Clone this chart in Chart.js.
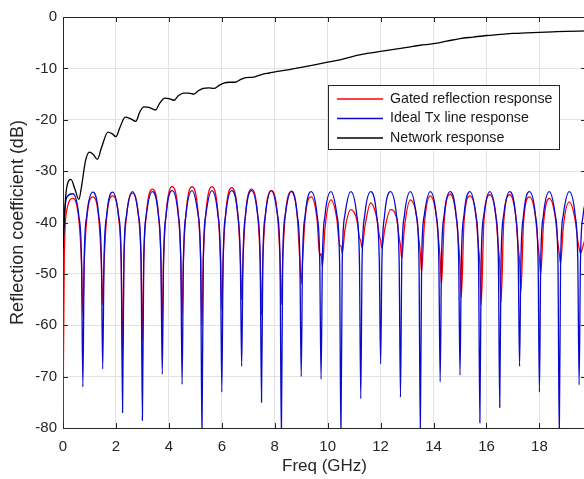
<!DOCTYPE html>
<html>
<head>
<meta charset="utf-8">
<script src="https://cdn.jsdelivr.net/npm/chart.js@4.4.1/dist/chart.umd.min.js"></script>
<style>
  html, body { margin: 0; padding: 0; background: #fff; overflow: hidden; }
  #wrap { width: 584px; height: 479px; overflow: hidden; }
  canvas { display: block; }
</style>
</head>
<body>
<div id="wrap"><canvas id="c" width="586" height="479"></canvas></div>
<script>
'use strict';

/* global Chart */

// frequency grid (GHz) shared by the gated and ideal traces
const freq = [
    0, 0.05, 0.15, 0.375, 0.6, 0.7,
    0.75, 0.8, 0.9, 1.125, 1.35, 1.45,
    1.5, 1.55, 1.65, 1.875, 2.1, 2.2,
    2.25, 2.3, 2.4, 2.625, 2.85, 2.95,
    3, 3.05, 3.15, 3.375, 3.6, 3.7,
    3.75, 3.8, 3.9, 4.125, 4.35, 4.45,
    4.5, 4.55, 4.65, 4.875, 5.1, 5.2,
    5.25, 5.3, 5.4, 5.625, 5.85, 5.95,
    6, 6.05, 6.15, 6.375, 6.6, 6.7,
    6.75, 6.8, 6.9, 7.125, 7.35, 7.45,
    7.5, 7.55, 7.65, 7.875, 8.1, 8.2,
    8.25, 8.3, 8.4, 8.625, 8.85, 8.95,
    9, 9.05, 9.15, 9.375, 9.6, 9.7,
    9.75, 9.8, 9.9, 10.125, 10.35, 10.45,
    10.5, 10.55, 10.65, 10.875, 11.1, 11.2,
    11.25, 11.3, 11.4, 11.625, 11.85, 11.95,
    12, 12.05, 12.15, 12.375, 12.6, 12.7,
    12.75, 12.8, 12.9, 13.125, 13.35, 13.45,
    13.5, 13.55, 13.65, 13.875, 14.1, 14.2,
    14.25, 14.3, 14.4, 14.625, 14.85, 14.95,
    15, 15.05, 15.15, 15.375, 15.6, 15.7,
    15.75, 15.8, 15.9, 16.125, 16.35, 16.45,
    16.5, 16.55, 16.65, 16.875, 17.1, 17.2,
    17.25, 17.3, 17.4, 17.625, 17.85, 17.95,
    18, 18.05, 18.15, 18.375, 18.6, 18.7,
    18.75, 18.8, 18.9, 19.125, 19.35, 19.45,
    19.5, 19.55, 19.65, 19.76
];

// Gated reflection response (dB)
const gatedDb = [
    -80, -46, -37.5, -35.3, -39.5, -48,
    -58, -48, -39.2, -35, -39.2, -48,
    -56, -48, -39, -34.8, -39, -48,
    -66, -47.8, -38.8, -34.3, -38.6, -47.5,
    -63, -47.5, -38.3, -33.5, -38, -47,
    -60, -47.2, -38, -33, -37.8, -47,
    -58, -47.2, -38, -33, -37.8, -47,
    -60, -47.2, -38, -33, -37.8, -47,
    -57, -47.2, -38, -33.2, -38, -47,
    -55, -47.3, -38.2, -33.5, -38.2, -47.2,
    -58, -47.4, -38.4, -33.8, -38.4, -47.3,
    -56, -47.5, -38.5, -34, -38.8, -47.5,
    -52, -47.5, -39, -35, -39.5, -46.5,
    -46, -48.6, -41, -35.6, -39.5, -44.5,
    -44.5, -46, -41.5, -37.5, -39.5, -43,
    -43.5, -45, -41, -36.2, -39, -42.5,
    -43.5, -45, -41.5, -37.5, -39, -43,
    -44.5, -47, -41, -35.6, -38.5, -43.5,
    -46, -49.6, -40.5, -34.8, -38.5, -44,
    -47, -52, -40, -34.5, -38.5, -44.5,
    -48, -54.5, -40, -34.8, -38.5, -45,
    -48, -56, -40, -34.6, -38.5, -45,
    -48, -55.5, -40, -34.6, -38.5, -45,
    -47.5, -53.5, -40, -35, -38.8, -44.5,
    -47, -50, -40.5, -35.3, -39, -44,
    -46, -48, -41, -36, -39.5, -43.5,
    -45, -46, -44.5, -42.5
];

// Ideal Tx line response (dB)
const idealDb = [
    -45, -39, -35, -34.4, -38.8, -47.5,
    -72, -47.5, -38.6, -34.1, -38.6, -47.5,
    -68.5, -47.5, -38.6, -34.1, -38.6, -47.5,
    -77, -47.5, -38.6, -34, -38.6, -47.5,
    -78.5, -47.5, -38.5, -34, -38.5, -47.5,
    -69.5, -47.4, -38.4, -33.8, -38.4, -47.4,
    -71.5, -47.4, -38.4, -33.8, -38.4, -47.4,
    -82, -47.4, -38.4, -33.8, -38.4, -47.4,
    -73, -47.4, -38.4, -33.8, -38.4, -47.4,
    -68, -47.4, -38.4, -33.8, -38.4, -47.4,
    -75, -47.4, -38.4, -33.8, -38.4, -47.4,
    -82, -47.5, -38.5, -33.9, -38.5, -47.5,
    -70, -47.5, -38.6, -34, -38.6, -47.5,
    -70.5, -47.5, -38.6, -34, -38.6, -47.5,
    -82, -47.5, -38.6, -34, -38.6, -47.5,
    -74.3, -47.5, -38.6, -34, -38.6, -47.5,
    -67.5, -47.5, -38.6, -34, -38.6, -47.5,
    -74, -47.5, -38.6, -34, -38.6, -47.5,
    -81, -47.5, -38.6, -34, -38.6, -47.5,
    -71, -47.5, -38.6, -34, -38.6, -47.5,
    -69.7, -47.5, -38.6, -34, -38.6, -47.5,
    -79, -47.5, -38.6, -34, -38.6, -47.5,
    -76, -47.5, -38.6, -34, -38.6, -47.5,
    -68, -47.5, -38.6, -34, -38.6, -47.5,
    -73, -47.5, -38.6, -34, -38.6, -47.5,
    -82, -47.5, -38.6, -34, -38.6, -47.5,
    -71.6, -47.5, -38.6, -35.5
];

// Network response, own frequency points
const netFreq = [
    0, 0.1, 0.2, 0.3, 0.45, 0.6, 0.7, 0.85, 1, 1.15, 1.3, 1.45,
    1.7, 1.85, 2, 2.15, 2.35, 2.55, 2.75, 2.9, 3.05, 3.25, 3.5, 3.65,
    3.85, 4, 4.2, 4.35, 4.55, 4.75, 4.95, 5.1, 5.3, 5.5, 5.7, 5.9,
    6.1, 6.3, 6.5, 6.7, 6.9, 7.2, 7.5, 7.8, 8.1, 8.5, 9, 9.5,
    10, 10.5, 11, 11.5, 12, 12.5, 13, 13.5, 14, 14.5, 15, 15.5,
    16, 16.5, 17, 17.5, 18, 18.5, 19, 19.76
];
const netDb = [
    -45, -35, -32, -31.6, -33.5, -35.5, -33, -28, -26.3, -26.8, -27.7, -25.5,
    -22.4, -22.7, -23.3, -21.5, -19.5, -19.8, -20.3, -18.5, -17.5, -17.6, -18.1, -16.8,
    -15.8, -15.9, -16.2, -15.4, -14.8, -14.8, -15, -14.4, -13.9, -13.8, -13.9, -13.3,
    -12.8, -12.7, -12.7, -12.2, -11.8, -11.7, -11.2, -10.9, -10.6, -10.3, -9.8, -9.3,
    -8.8, -8.3, -7.6, -7.1, -6.7, -6.3, -5.9, -5.5, -5.2, -4.7, -4.2, -3.9,
    -3.6, -3.4, -3.2, -3.1, -3.0, -2.9, -2.8, -2.7
];

const seriesNames = ['Gated reflection response', 'Ideal Tx line response', 'Network response'];
const seriesColors = ['#ff0000', '#0a0acc', '#000000'];

const xTicks = [0, 2, 4, 6, 8, 10, 12, 14, 16, 18];
const yTicks = [-80, -70, -60, -50, -40, -30, -20, -10, 0];

const axisColor = '#262626';
const fontFamily = '"Liberation Sans", Arial, sans-serif';

let toXY = (xs, ys) => xs.map((v, i) => ({ x: v, y: ys[i] }));

// box, inward ticks and the legend, MATLAB style
const frame = {
    id: 'frame',
    afterDraw(chart) {
        const { ctx, chartArea: a, scales } = chart;
        ctx.save();
        ctx.strokeStyle = axisColor;
        ctx.lineWidth = 1;
        ctx.beginPath();
        ctx.moveTo(a.left, a.top + 0.5);
        ctx.lineTo(a.right, a.top + 0.5);
        ctx.moveTo(a.right - 0.5, a.top);
        ctx.lineTo(a.right - 0.5, a.bottom);
        xTicks.forEach((t) => {
            const px = Math.round(scales.x.getPixelForValue(t)) + 0.5;
            ctx.moveTo(px, a.bottom);
            ctx.lineTo(px, a.bottom - 5);
            ctx.moveTo(px, a.top);
            ctx.lineTo(px, a.top + 5);
        });
        yTicks.forEach((t) => {
            const py = Math.round(scales.y.getPixelForValue(t)) + 0.5;
            ctx.moveTo(a.left, py);
            ctx.lineTo(a.left + 5, py);
            ctx.moveTo(a.right, py);
            ctx.lineTo(a.right - 5, py);
        });
        ctx.stroke();

        // legend
        const lx = 328.5, ly = 85.5, lw = 231, lh = 64;
        ctx.fillStyle = '#ffffff';
        ctx.fillRect(lx, ly, lw, lh);
        ctx.strokeStyle = axisColor;
        ctx.strokeRect(lx, ly, lw, lh);
        ctx.font = '14.2px ' + fontFamily;
        ctx.textBaseline = 'middle';
        ctx.textAlign = 'left';
        seriesNames.forEach((name, i) => {
            const yy = 99 + i * 19.5;
            ctx.strokeStyle = seriesColors[i];
            ctx.lineWidth = 1.3;
            ctx.beginPath();
            ctx.moveTo(337, yy);
            ctx.lineTo(383, yy);
            ctx.stroke();
            ctx.fillStyle = '#1a1a1a';
            ctx.fillText(name, 390, yy);
        });
        ctx.restore();
    }
};

const lineStyle = {
    pointRadius: 0,
    borderWidth: 1.3,
    fill: false,
    cubicInterpolationMode: 'monotone'
};

new Chart(document.getElementById('c'), {
    type: 'line',
    data: {
        datasets: [{
            ...lineStyle,
            label: seriesNames[0],
            data: toXY(freq, gatedDb),
            borderColor: seriesColors[0],
            order: 3
        }, {
            ...lineStyle,
            label: seriesNames[1],
            data: toXY(freq, idealDb),
            borderColor: seriesColors[1],
            order: 2
        }, {
            ...lineStyle,
            label: seriesNames[2],
            data: toXY(netFreq, netDb),
            borderColor: seriesColors[2],
            order: 1
        }]
    },
    options: {
        responsive: false,
        animation: false,
        devicePixelRatio: 1,
        layout: { padding: { top: 17, right: 0, bottom: 0, left: 0 } },
        plugins: {
            legend: { display: false },
            tooltip: { enabled: false }
        },
        scales: {
            x: {
                type: 'linear',
                min: 0,
                max: 19.76,
                afterFit: (s) => { s.height = 51; },
                afterBuildTicks: (s) => { s.ticks = xTicks.map((v) => ({ value: v })); },
                ticks: {
                    color: axisColor,
                    font: { family: fontFamily, size: 15 },
                    padding: 10,
                    maxRotation: 0
                },
                grid: { color: '#e3e3e3', drawTicks: false },
                border: { color: axisColor },
                title: {
                    display: true,
                    text: 'Freq (GHz)',
                    color: axisColor,
                    font: { family: fontFamily, size: 17 },
                    padding: { top: 0, bottom: 2 }
                }
            },
            y: {
                min: -80,
                max: 0,
                afterFit: (s) => { s.width = 63; },
                afterBuildTicks: (s) => { s.ticks = yTicks.map((v) => ({ value: v })); },
                ticks: {
                    color: axisColor,
                    font: { family: fontFamily, size: 15 },
                    padding: 6
                },
                grid: { color: '#e3e3e3', drawTicks: false },
                border: { color: axisColor },
                title: {
                    display: true,
                    text: 'Reflection coefficient (dB)',
                    color: axisColor,
                    font: { family: fontFamily, size: 18 },
                    padding: { top: 7, bottom: 0 }
                }
            }
        }
    },
    plugins: [frame]
});
</script>
</body>
</html>
